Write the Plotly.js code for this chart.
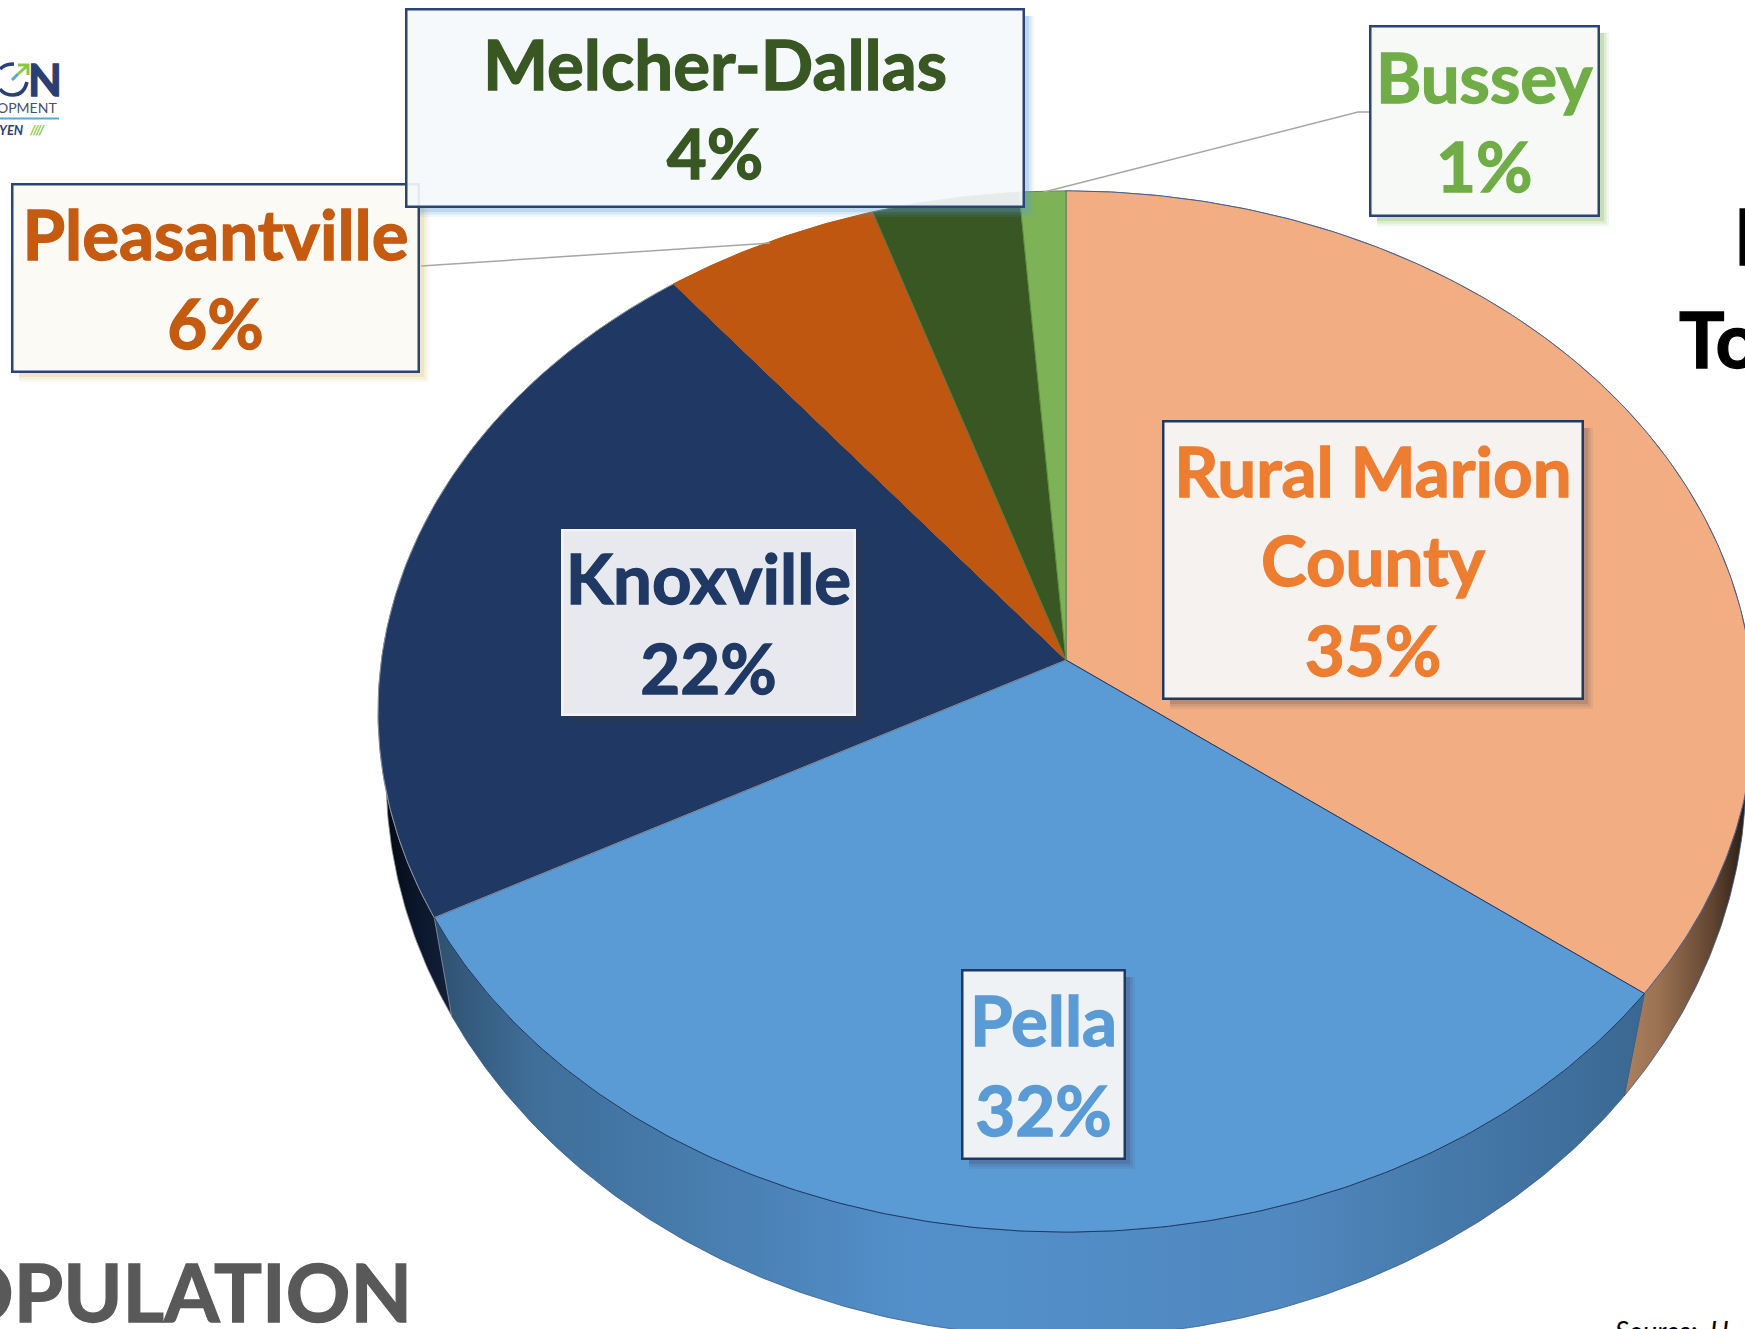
<!DOCTYPE html>
<html>
<head>
<meta charset="utf-8">
<script src="https://cdn.plot.ly/plotly-3.0.1.min.js"></script>
<style>html,body{margin:0;padding:0;background:#fff;overflow:hidden}#chart{width:1745px;height:1329px}</style>
</head>
<body>
<div id="chart"></div>
<script>
// ---- chart data, clockwise from the top of the pie ----
const regions = ['Rural Marion County', 'Pella', 'Knoxville', 'Pleasantville', 'Melcher-Dallas', 'Bussey'];
const labelLines = [['Rural Marion', 'County'], ['Pella'], ['Knoxville'], ['Pleasantville'], ['Melcher-Dallas'], ['Bussey']];
const shares = [35.4, 31.7, 22.3, 5.6, 3.8, 1.2];
const sliceColors = ['#F2AE82', '#5B9BD5', '#1F3864', '#C05710', '#385723', '#7DB356'];
const sliceEdges = ['#4A5F8E', '#1F3864', '#8C909C', '#B55410', '#5C7A48', '#5E8F3C'];
const textColors = ['#ED7D31', '#5B9BD5', '#1F3864', '#C55A11', '#385723', '#70AD47'];
const boxFills = ['rgba(245,244,243,0.97)', 'rgba(244,245,246,0.97)', 'rgba(236,237,241,0.98)',
                  'rgba(251,250,245,1)', 'rgba(245,249,252,0.92)', 'rgba(247,249,246,1)'];
const boxEdges = ['#1F3864', '#1F3864', '#F4F4F6', '#2B4474', '#2B4474', '#2B4474'];
const glowColors = ['rgba(90,90,100,', 'rgba(70,70,110,', 'rgba(60,60,70,', 'rgba(214,190,110,', 'rgba(91,155,213,', 'rgba(112,173,71,'];
// label box: [left, right, top, bottom]
const labelBoxes = [[1162,1584,420,700],[961,1126,969,1160],[561,856,529,716],[11,420,183,373],[405,1025,8,208],[1369,1600,25,217]];
const sideRamps = [
  [[0,'#B48A66'],[0.81,'#B48A66'],[0.88,'#9B7252'],[0.95,'#5E4330'],[1,'#1A120B']],
  [[0,'#2F506F'],[0.08,'#3F6E98'],[0.4,'#5390CB'],[0.7,'#5088BF'],[1,'#3A6892']],
  [[0,'#02050B'],[0.1,'#0A1528'],[0.25,'#14233F'],[1,'#14233F']]
];

// ---- perspective of the tilted disc ----
const cx = 1066, cy = 660, A = 684.6, B = 515.5, K = 0.0989;
const rimRx = 680, rimRy = 562, rimCy = 775, rimStretch = 1.05;
function project(p) {
  const t = p / 100 * 2 * Math.PI, x = Math.sin(t), y = Math.cos(t), d = 1 + K * y;
  return [cx + A * x / d, cy - B * y / d];
}
function lower(p) {
  const deg = 180 + (p / 100 * 360 - 180) * rimStretch, t = deg * Math.PI / 180;
  return [cx + rimRx * Math.sin(t), rimCy - rimRy * Math.cos(t)];
}
function fracs(a, b) {
  const out = [], n = Math.max(4, Math.ceil((b - a) * 6));
  for (let i = 0; i <= n; i++) out.push(a + (b - a) * i / n);
  return out;
}

const traces = [];
let cum = 0;
const starts = shares.map(s => { const c = cum; cum += s; return c; });
const scale = 100 / cum;

// rim of the three front slices
[0, 1, 2].forEach(i => {
  const f = fracs(starts[i] * scale, (starts[i] + shares[i]) * scale);
  const up = f.map(project), down = f.map(lower).reverse();
  const pts = up.concat(down, [up[0]]);
  traces.push({
    type: 'scatter', mode: 'lines', x: pts.map(p => p[0]), y: pts.map(p => p[1]),
    fill: 'toself', fillgradient: {type: 'horizontal', colorscale: sideRamps[i]},
    line: {color: i === 2 ? '#8C909C' : '#3B5A86', width: 0.8}, hoverinfo: 'skip', name: regions[i] + ' rim'
  });
});
// top faces
shares.forEach((s, i) => {
  const up = fracs(starts[i] * scale, (starts[i] + s) * scale).map(project);
  const pts = [[cx, cy]].concat(up, [[cx, cy]]);
  traces.push({
    type: 'scatter', mode: 'lines', x: pts.map(p => p[0]), y: pts.map(p => p[1]),
    fill: 'toself', fillcolor: sliceColors[i],
    line: {color: sliceEdges[i], width: 1}, hoverinfo: 'skip', name: regions[i]
  });
});

const F = 'Lato, Carlito, "Open Sans", sans-serif';
const annotations = [];
const shapes = [];

// leader lines
shapes.push({type: 'path', path: 'M421,266 L770,243', xref: 'x', yref: 'y', line: {color: '#A6A6A6', width: 1.5}, layer: 'above'});
shapes.push({type: 'path', path: 'M1044,192 L1358,112 L1369,112', xref: 'x', yref: 'y', line: {color: '#A6A6A6', width: 1.5}, layer: 'above'});

// label boxes, in stacking order
[0, 1, 2, 3, 5, 4].forEach(i => {
  const [l, r, t, b] = labelBoxes[i];
  [[9, 0.10], [6.5, 0.14], [4, 0.22]].forEach(g => {
    const w = g[0];
    shapes.push({type: 'path', xref: 'x', yref: 'y',
      path: `M${r},${t + 8} L${r + w},${t + 8} L${r + w},${b + w} L${l + 8},${b + w} L${l + 8},${b} L${r},${b} Z`,
      fillcolor: glowColors[i] + g[1] + ')', line: {width: 0}, layer: 'above'});
  });
  annotations.push({
    x: (l + r) / 2, y: (t + b) / 2, xref: 'x', yref: 'y', xanchor: 'center', yanchor: 'middle',
    width: r - l - 5, height: b - t - 5, align: 'center', valign: 'middle', borderpad: 0,
    text: labelLines[i].concat([Math.round(shares[i]) + '%']).join('<br>'),
    showarrow: false, bgcolor: boxFills[i], bordercolor: boxEdges[i], borderwidth: 2.5,
    font: {family: F, size: 69, color: textColors[i], weight: 700}
  });
});

// cropped page text
function pageText(text, x, y, xanchor, font, extra) {
  annotations.push(Object.assign({x, y, xref: 'x', yref: 'y', xanchor, yanchor: 'middle', text, showarrow: false, borderpad: 0,
    font: Object.assign({family: F}, font)}, extra || {}));
}
pageText('OPULATION', 413, 1291, 'right', {size: 80, color: '#595959', weight: 700});
pageText('To', 1678, 338, 'left', {size: 76, color: '#000000', weight: 700});
pageText('P', 1733, 235, 'left', {size: 76, color: '#000000', weight: 700});
pageText('Source:  U', 1614, 1328, 'left', {size: 27, color: '#000000', style: 'italic'}, {yanchor: 'top', yshift: 15});
// logo fragment
pageText('N', 27, 79, 'left', {size: 44, color: '#2A3F73', weight: 700});
pageText('OPMENT', 58, 107, 'right', {size: 14, color: '#44546A'});
pageText('YEN', 25, 130, 'right', {size: 13, color: '#2A3F73', weight: 700, style: 'italic'});
pageText('////', 28, 130, 'left', {size: 13, color: '#8DC63F', weight: 700, style: 'italic'});
const L = {xref: 'x', yref: 'y', type: 'path'};
shapes.push(Object.assign({path: 'M27,82 C25,90 20,95 13,95 C8,95 3,93 0,89', line: {color: '#2A3F73', width: 3.5}}, L));
shapes.push(Object.assign({path: 'M0,69 C3,66 8,64 14,64', line: {color: '#2A3F73', width: 3.5}}, L));
shapes.push(Object.assign({path: 'M12,80 L18,74', line: {color: '#5BA8C9', width: 3}}, L));
shapes.push(Object.assign({path: 'M18,74 L27,66 M18,65 L28,65 L28,75', line: {color: '#8DC63F', width: 3}}, L));
shapes.push(Object.assign({path: 'M0,118.5 L59,118.5', line: {color: '#5BA8C9', width: 2}}, L));

Plotly.newPlot('chart', traces, {
  width: 1745, height: 1329, autosize: false,
  margin: {l: 0, r: 0, t: 0, b: 0, pad: 0},
  paper_bgcolor: '#ffffff', plot_bgcolor: '#ffffff', showlegend: false, hovermode: false,
  xaxis: {range: [0, 1745], visible: false, fixedrange: true},
  yaxis: {range: [1329, 0], visible: false, fixedrange: true},
  shapes, annotations
}, {displayModeBar: false, staticPlot: true}).then(gd => {
  // the source type is heavier than Lato Bold: thicken the large bold text
  gd.querySelectorAll('.annotation-text').forEach(t => {
    const size = parseFloat(t.style.fontSize);
    if (size >= 40) {
      t.style.stroke = t.style.fill;
      t.style.strokeWidth = '1.3px';
    }
  });
});
</script>
</body>
</html>
